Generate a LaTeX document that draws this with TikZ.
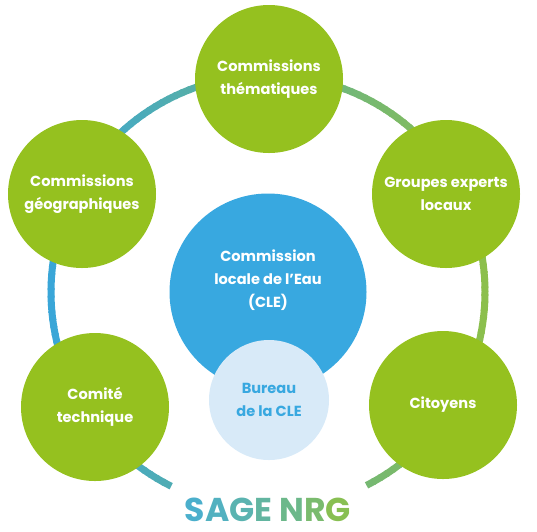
\documentclass[tikz,border=0pt]{standalone}
\usepackage{fontspec}
\setmainfont{Poppins}

\definecolor{leafgreen}{HTML}{95C11F}
\definecolor{waterblue}{HTML}{38A8E0}
\definecolor{paleblue}{HTML}{D8EAF8}
\definecolor{ringblue}{HTML}{3AA6D8}
\definecolor{ringgreen}{HTML}{8CBF4C}

\begin{document}
\begin{tikzpicture}[x=1pt,y=-1pt,
    member/.style={circle,fill=leafgreen,minimum size=148pt,inner sep=0pt,
      text=white,align=center,font=\bfseries\fontsize{14.6}{23}\selectfont},
    assembly/.style={circle,fill=waterblue,minimum size=197pt,inner sep=0pt},
    bureau/.style={circle,fill=paleblue,minimum size=120pt,inner sep=0pt,
      text=waterblue,align=center,font=\bfseries\fontsize{14.6}{23}\selectfont},
    ringpart/.style={line width=7pt}]
    \useasboundingbox (0,0) rectangle (537,531);

    % ring, blue on the left, green on the right
    \coordinate (hub) at (268,292);
    \foreach \a in {-63,-61,...,241} {
        \pgfmathsetmacro\mixg{50+50*cos(\a)}
        \draw[ringpart,ringgreen!\mixg!ringblue] (hub) ++(\a:217pt)
            arc[start angle=\a,end angle=\a+2.5,radius=217pt];
    }

    \path
    (269,79) node[member](them) {Commissions\\th\'ematiques}
    (82,194) node[member](geo) {Commissions\\g\'eographiques}
    (446,194) node[member](experts) {Groupes experts\\locaux}
    (95,407) node[member](comite) {Comit\'e\\technique}
    (443,405) node[member](citoyens) {Citoyens}
    (hub) node[assembly](cle) {}
    (269,400) node[bureau](bureau) {Bureau\\de la CLE};

    \node[text=white,align=center,font=\bfseries\fontsize{14.6}{23}\selectfont]
        (cletext) at ([yshift=12pt]cle.center) {Commission\\locale de l’Eau\\(CLE)};

    \node[inner sep=0pt,font=\bfseries\fontsize{33}{33}\selectfont] (title) at (268,510)
        {\textcolor[HTML]{4BAFCC}{S}\textcolor[HTML]{52B1C0}{A}\textcolor[HTML]{5AB3B0}{G}\textcolor[HTML]{62B5A0}{E}
         \textcolor[HTML]{6CB88A}{N}\textcolor[HTML]{7ABB6E}{R}\textcolor[HTML]{88BF52}{G}};
\end{tikzpicture}
\end{document}
